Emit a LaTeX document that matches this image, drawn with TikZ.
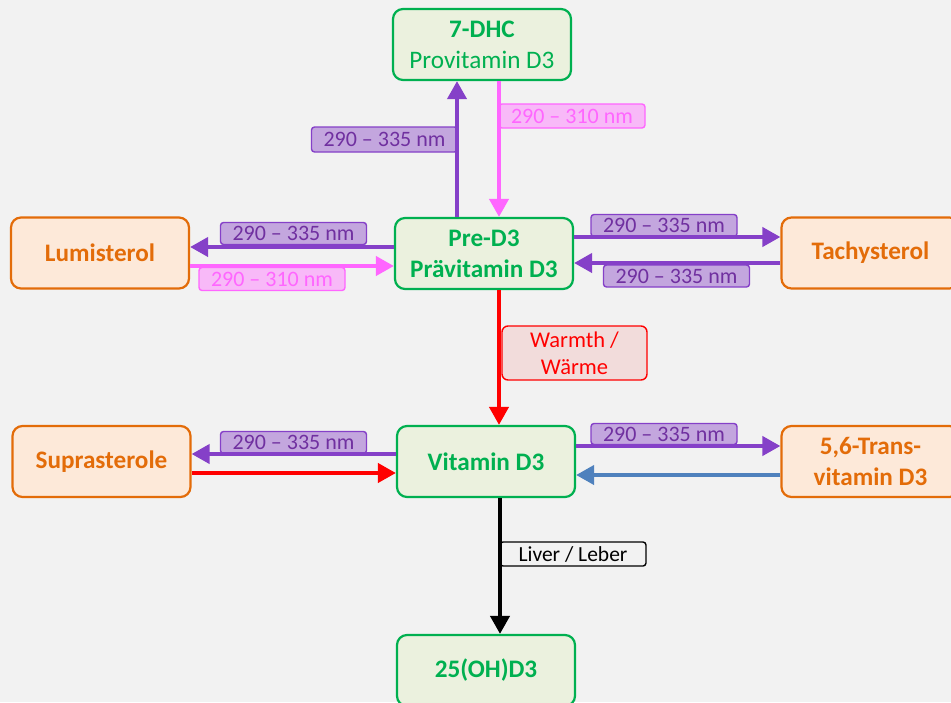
\documentclass[tikz,border=0pt]{standalone}
\usepackage{fontspec}
\setmainfont{Carlito}
\usetikzlibrary{arrows.meta,calc}
\definecolor{bg}{HTML}{F2F2F2}
\definecolor{grn}{HTML}{00B050}
\definecolor{grnfill}{HTML}{EBF1DE}
\definecolor{org}{HTML}{E36C09}
\definecolor{orgfill}{HTML}{FDE9D9}
\definecolor{purp}{HTML}{8540C8}
\definecolor{purpfill}{HTML}{C3A6DE}
\definecolor{purptext}{HTML}{7030A0}
\definecolor{pink}{HTML}{FF66FF}
\definecolor{pinkfill}{HTML}{F8B9F8}
\definecolor{rd}{HTML}{FF0000}
\definecolor{rdfill}{HTML}{F2DCDB}
\definecolor{blu}{HTML}{4F81BD}
\begin{document}
\begin{tikzpicture}[x=1pt,y=-1pt,
  box/.style={rounded corners=10pt,line width=2.2pt,minimum width=178pt,minimum height=71pt,inner sep=0pt,align=center,font=\fontsize{25.2}{31}\selectfont},
  gbox/.style={box,draw=grn,fill=grnfill,text=grn},
  bbox/.style={gbox,font=\fontsize{25.2}{31}\selectfont\bfseries},
  obox/.style={box,draw=org,fill=orgfill,text=org,font=\fontsize{25.2}{31}\selectfont\bfseries},
  lab/.style={rounded corners=3pt,line width=1.4pt,inner sep=0pt,align=center,font=\fontsize{22}{27}\selectfont},
  plab/.style={lab,draw=purp,fill=purpfill,text=purptext,minimum width=146pt,minimum height=22pt},
  klab/.style={lab,draw=pink,fill=pinkfill,text=pink,minimum width=146pt,minimum height=23pt},
  arr/.style={line width=4pt,-{Triangle[width=19pt,length=18pt]}},
  parr/.style={arr,draw=purp},
  karr/.style={arr,draw=pink},
  rarr/.style={arr,draw=rd},
  barr/.style={arr,draw=blu},
  blarr/.style={arr,draw=black}]
\useasboundingbox[fill=bg] (0,0) rectangle (951,702);

% main nodes
\node[gbox] (dhc) at (482,44.5) {\textbf{7-DHC}\\Provitamin D3};
\node[bbox] (pre) at (484,253.5) {Pre-D3\\Prävitamin D3};
\node[bbox] (vit) at (486,461.5) {Vitamin D3};
\node[bbox] (oh) at (486,670.5) {25(OH)D3};
\node[obox] (lumi) at (100,253) {Lumisterol};
\node[obox] (tachy) at (870.5,253) {Tachysterol};
\node[obox] (supra) at (101.5,461.5) {Suprasterole};
\node[obox] (trans) at (870.5,461.5) {5,6-Trans-\\vitamin D3};

% labels
\node[plab,minimum height=25pt] (l1) at (384.5,139.5) {290 – 335 nm};
\node[klab,minimum height=24pt] (l2) at (572,116) {290 – 310 nm};
\node[plab] (l3) at (293.5,233.5) {290 – 335 nm};
\node[klab] (l4) at (272,279) {290 – 310 nm};
\node[plab] (l5) at (664,225.5) {290 – 335 nm};
\node[plab] (l6) at (676.5,276) {290 – 335 nm};
\node[lab,draw=rd,fill=rdfill,text=rd,minimum width=145pt,minimum height=54pt,rounded corners=6pt,font=\fontsize{22.5}{27}\selectfont] (warm) at (574.5,353) {Warmth /\\Wärme};
\node[plab] (l7) at (293.5,442.5) {290 – 335 nm};
\node[plab,minimum height=21pt] (l8) at (664,434) {290 – 335 nm};
\node[lab,draw=black,fill=bg,text=black,minimum width=146pt,minimum height=24pt,font=\fontsize{21.5}{26}\selectfont] (liver) at (573,554) {Liver / Leber};

% connectors
\draw[parr] ($(pre.north)+(-27,0)$) coordinate (c1) -- (c1 |- dhc.south);
\draw[karr] ($(dhc.south)+(17,0)$) coordinate (c2) -- (c2 |- pre.north);
\draw[parr] ($(pre.west)+(0,-6.5)$) coordinate (c3) -- (c3 -| lumi.east);
\draw[karr] ($(lumi.east)+(0,13)$) coordinate (c4) -- (c4 -| pre.west);
\draw[parr] ($(pre.east)+(0,-16.5)$) coordinate (c5) -- (c5 -| tachy.west);
\draw[parr] ($(tachy.west)+(0,10)$) coordinate (c6) -- (c6 -| pre.east);
\draw[rarr] ($(pre.south)+(15,0)$) coordinate (c7) -- (c7 |- vit.north);
\draw[parr] ($(vit.west)+(0,-7.5)$) coordinate (c8) -- (c8 -| supra.east);
\draw[rarr] ($(supra.east)+(0,11.5)$) coordinate (c9) -- (c9 -| vit.west);
\draw[parr] ($(vit.east)+(0,-15.5)$) coordinate (c10) -- (c10 -| trans.west);
\draw[barr] ($(trans.west)+(0,13.5)$) coordinate (c11) -- (c11 -| vit.east);
\draw[blarr] ($(vit.south)+(14,0)$) coordinate (c12) -- (c12 |- oh.north);
\end{tikzpicture}
\end{document}
